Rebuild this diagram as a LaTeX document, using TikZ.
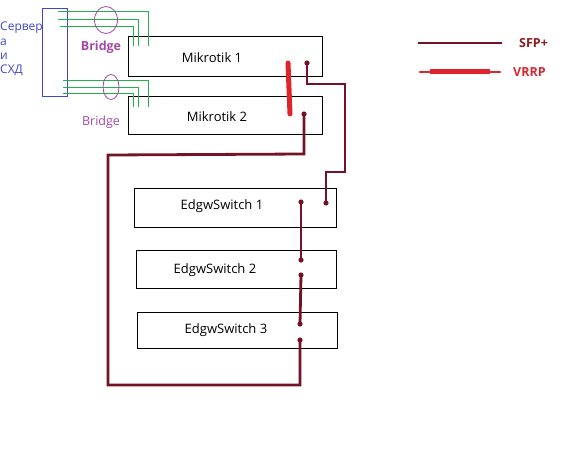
\documentclass[tikz,border=0pt]{standalone}
\usepackage{fontspec}
\setmainfont{Open Sans}
\usetikzlibrary{shapes.geometric}
\definecolor{sfpc}{HTML}{741226}
\definecolor{vrrpc}{HTML}{E0242C}
\definecolor{purp}{HTML}{A349A4}
\definecolor{blu}{HTML}{3F48CC}
\definecolor{grn}{HTML}{22B14C}
\definecolor{sfptext}{HTML}{8E1B22}
\definecolor{vrrptext}{HTML}{D22A30}
\begin{document}
\begin{tikzpicture}[x=1pt,y=-1pt,
  box/.style={draw,line width=0.9pt,inner sep=0pt},
  lbl/.style={font=\fontsize{13}{15}\selectfont,inner sep=0pt},
  sfp/.style={draw=sfpc,line width=2.8pt,line join=miter},
  vrrp/.style={draw=vrrpc,line width=5pt,line cap=round},
  wire/.style={draw=grn,line width=0.8pt},
  bridge/.style={font=\fontsize{12.5}{15}\selectfont,text=purp,inner sep=0pt},
  legt/.style={font=\fontsize{12.5}{15}\selectfont\bfseries,anchor=west,inner sep=0pt}]
\useasboundingbox (0,0) rectangle (581,460);
% server box
\node[draw=blu,line width=0.8pt,minimum width=25pt,minimum height=88pt,inner sep=0pt] (srv) at (54.5,52) {};
\node[font=\fontsize{12}{14.3}\selectfont,text=blu,align=left,anchor=north west,inner sep=0pt] (srvt) at (0,22) {Сервер\\а\\и\\СХД};
% boxes
\node[box,minimum width=194pt,minimum height=40pt] (m1) at (225,56) {};
\node[box,minimum width=194pt,minimum height=38pt] (m2) at (225,115) {};
\node[box,minimum width=202pt,minimum height=39pt] (e1) at (235,207.5) {};
\node[box,minimum width=200pt,minimum height=38pt] (e2) at (236,269) {};
\node[box,minimum width=200pt,minimum height=36pt] (e3) at (237,330) {};
\node[lbl] (m1t) at (212,58) {Mikrotik 1};
\node[lbl] (m2t) at (217,117) {Mikrotik 2};
\node[lbl] (e1t) at (222,206) {EdgwSwitch 1};
\node[lbl] (e2t) at (215,270) {EdgwSwitch 2};
\node[lbl] (e3t) at (226,330) {EdgwSwitch 3};
% green wires
\draw[wire] (58,11) -- (148,11) -- (148,46);
\draw[wire] (58,19) -- (138,19) -- (138,46);
\draw[wire] (60,26) -- (133,26) -- (133,46);
\draw[wire] (63,80) -- (148,80) -- (148,107);
\draw[wire] (63,87) -- (138,87) -- (138,107);
\draw[wire] (63,93) -- (133,93) -- (133,107);
% bridges
\node[draw=purp,line width=0.8pt,ellipse,minimum width=23pt,minimum height=27pt,inner sep=0pt] (br1) at (106,20) {};
\node[draw=purp,line width=0.8pt,ellipse,minimum width=16pt,minimum height=25pt,inner sep=0pt] (br2) at (111,87) {};
\node[bridge,font=\fontsize{12.5}{15}\selectfont\bfseries] (br1t) at (101,47) {Bridge};
\node[bridge] (br2t) at (101,122) {Bridge};
% ports
\coordinate (m1p) at (307,63);
\coordinate (m2p) at (304,114);
\coordinate (m1v) at (288,63);
\coordinate (m2v) at (290,114);
\coordinate (e1a) at (301,202);
\coordinate (e1b) at (326,203);
\coordinate (e2a) at (301,260);
\coordinate (e2b) at (301,275);
\coordinate (e3a) at (300,324);
\coordinate (e3b) at (300,340);
% VRRP
\draw[vrrp] (m1v) -- (m2v);
% SFP+
\draw[sfp] (m1p) -- (307,84) -- (345,84) -- (345,172) -- (326,172) -- (e1b);
\draw[sfp] (m2p) -- (304,154) -- (108,155) -- (108,385) -- (300,385) -- (e3b);
\draw[sfp] (e1a) -- (e2a);
\draw[sfp] (e2b) -- (e3a);
\foreach \p in {m1p,m2p,e1a,e1b,e2a,e2b,e3a,e3b} \fill[sfpc] (\p) circle (2.6pt);
% legend
\coordinate (l1a) at (418,43);
\coordinate (l1b) at (502,43);
\draw[sfp] (l1a) -- (l1b);
\node[legt,text=sfptext] (sfpt) at (519,43) {SFP+};
\coordinate (l2a) at (420,72);
\coordinate (l2b) at (500,72);
\draw[draw=vrrpc,line width=2.6pt,line cap=round] (l2a) -- (l2b);
\draw[draw=vrrpc,line width=5pt] (430,72) -- (490,72);
\node[legt,text=vrrptext] (vrrpt) at (513,72) {VRRP};
\end{tikzpicture}
\end{document}
